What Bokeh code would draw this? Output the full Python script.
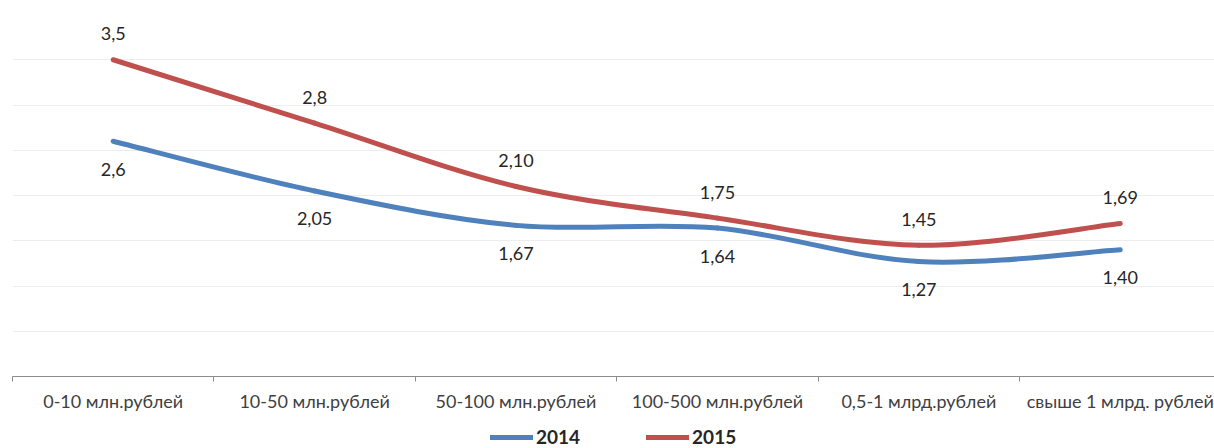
from bokeh.plotting import figure
from bokeh.layouts import column
from bokeh.models import (Range1d, FixedTicker, LinearAxis, ColumnDataSource,
                          LabelSet, Legend, LegendItem)
from bokeh.core.properties import value
from bokeh.embed import file_html
from bokeh.resources import INLINE

categories = ["0-10 млн.рублей", "10-50 млн.рублей", "50-100 млн.рублей",
              "100-500 млн.рублей", "0,5-1 млрд.рублей", "свыше 1 млрд. рублей"]
series_names = ["2014", "2015"]
values_2014 = [2.6, 2.05, 1.67, 1.64, 1.27, 1.40]
values_2015 = [3.5, 2.8, 2.10, 1.75, 1.45, 1.69]
labels_2014 = ["2,6", "2,05", "1,67", "1,64", "1,27", "1,40"]
labels_2015 = ["3,5", "2,8", "2,10", "1,75", "1,45", "1,69"]

BLUE = "#4F81BD"
RED = "#C0504D"
FONT = "Lato"
TEXT = "#262626"
NAN = float("nan")

xs = [i + 0.5 for i in range(len(categories))]

p = figure(width=1214, height=416, output_backend="svg", toolbar_location=None,
           x_range=Range1d(0, 5.968), y_range=Range1d(0, 4.0),
           x_axis_location=None, y_axis_location=None,
           min_border_left=12, min_border_right=0, min_border_top=14,
           min_border_bottom=40)
p.outline_line_color = None
p.xgrid.visible = False
p.ygrid.ticker = FixedTicker(ticks=[0.5 * k for k in range(1, 9)])
p.ygrid.grid_line_color = "#EDEDED"
p.ygrid.grid_line_width = 1

xaxis = LinearAxis(ticker=FixedTicker(ticks=xs, minor_ticks=list(range(len(categories) + 1))))
xaxis.major_label_overrides = {x: c for x, c in zip(xs, categories)}
xaxis.major_tick_line_color = None
xaxis.major_tick_out = 0
xaxis.major_tick_in = 0
xaxis.minor_tick_line_color = "#8C8C8C"
xaxis.minor_tick_out = 5
xaxis.minor_tick_in = 0
xaxis.axis_line_color = "#8C8C8C"
xaxis.axis_line_width = 1
xaxis.major_label_text_font = FONT
xaxis.major_label_text_font_size = "18px"
xaxis.major_label_text_color = "#404040"
xaxis.major_label_standoff = 8
p.add_layout(xaxis, "below")


def smooth(xv, yv, t=1 / 6):
    n = len(xv)
    out = dict(x0=[], y0=[], x1=[], y1=[], cx0=[], cy0=[], cx1=[], cy1=[])
    for i in range(n - 1):
        a = i - 1 if i > 0 else i
        d = i + 2 if i + 2 < n else i + 1
        out["x0"].append(xv[i]); out["y0"].append(yv[i])
        out["x1"].append(xv[i + 1]); out["y1"].append(yv[i + 1])
        out["cx0"].append(xv[i] + (xv[i + 1] - xv[a]) * t)
        out["cy0"].append(yv[i] + (yv[i + 1] - yv[a]) * t)
        out["cx1"].append(xv[i + 1] - (xv[d] - xv[i]) * t)
        out["cy1"].append(yv[i + 1] - (yv[d] - yv[i]) * t)
    return out


# legend strip below the chart
lg = figure(width=1214, height=32, output_backend="svg", toolbar_location=None,
            x_range=Range1d(0, 1214), y_range=Range1d(0, 32),
            x_axis_location=None, y_axis_location=None,
            min_border_left=0, min_border_right=0, min_border_top=0, min_border_bottom=0)
lg.outline_line_color = None
lg.xgrid.visible = False
lg.ygrid.visible = False

legend_items = []
for vals, labs, color, name, off in [(values_2014, labels_2014, BLUE, series_names[0], -28),
                                      (values_2015, labels_2015, RED, series_names[1], 26)]:
    seg = ColumnDataSource(smooth(xs, vals))
    p.bezier(x0="x0", y0="y0", x1="x1", y1="y1", cx0="cx0", cy0="cy0", cx1="cx1", cy1="cy1",
             source=seg, line_color=color, line_width=5, line_cap="round")
    dummy = lg.line(x=[NAN], y=[NAN], line_color=color, line_width=5, line_cap="round")
    legend_items.append(LegendItem(label=name, renderers=[dummy]))
    src = ColumnDataSource(dict(x=xs, y=vals, t=labs))
    p.add_layout(LabelSet(x="x", y="y", text="t", source=src, y_offset=off,
                          text_align="center", text_baseline="middle",
                          text_font=value(FONT), text_font_size=value("18px"),
                          text_color=TEXT))

legend = Legend(items=legend_items, orientation="horizontal", location=(478, 0),
                glyph_width=43, glyph_height=20, label_standoff=3, spacing=66,
                padding=0, margin=0, border_line_color=None, background_fill_alpha=0,
                label_text_font=FONT, label_text_font_style="bold",
                label_text_font_size="19px", label_text_color=TEXT,
                label_height=20)
lg.add_layout(legend, "center")

layout = column(p, lg, spacing=0)
open("out.html", "w").write(file_html(layout, INLINE))
